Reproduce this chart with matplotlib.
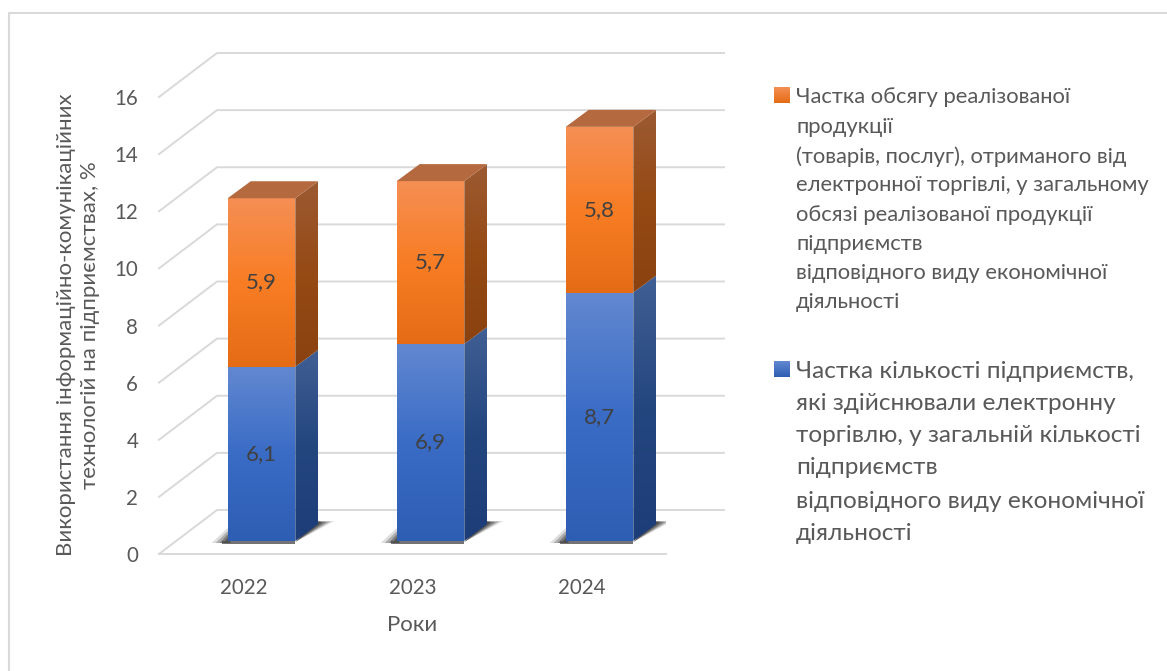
import numpy as np
import matplotlib
matplotlib.use('Agg')
import matplotlib.pyplot as plt
from matplotlib.colors import LinearSegmentedColormap
from matplotlib.lines import Line2D
from matplotlib.patches import Polygon, Rectangle
from matplotlib.transforms import IdentityTransform

plt.rcParams['font.family'] = ['Lato', 'Open Sans', 'DejaVu Sans']

years = ['2022', '2023', '2024']
firms_share = [6.1, 6.9, 8.7]
sales_share = [5.9, 5.7, 5.8]
y_ticks = [0, 2, 4, 6, 8, 10, 12, 14, 16]

sales_legend = ['Частка обсягу реалізованої', 'продукції', '(товарів, послуг), отриманого від',
                'електронної торгівлі, у загальному', 'обсязі реалізованої продукції', 'підприємств',
                'відповідного виду економічної', 'діяльності']
firms_legend = ['Частка кількості підприємств,', 'які здійснювали електронну', 'торгівлю, у загальній кількості',
                'підприємств', 'відповідного виду економічної', 'діяльності']

TEXT = '#595959'
GRID = '#D9D9D9'
H = 671
identity = IdentityTransform()

fig = plt.figure(figsize=(11.67, 6.71), dpi=100)
ax = fig.add_axes([159 / 1167, (H - 554) / H, 507 / 1167, 457 / H])
ax.set_xlim(-0.5, 2.5)
ax.set_ylim(0, 16)
ax.set_autoscale_on(False)
for s in ax.spines.values():
    s.set_visible(False)
ax.patch.set_visible(False)

# Рамка диаграммы (правый и нижний края уходят за кадр)
fig.add_artist(Line2D([9 / 1167, 9 / 1167, 1], [0, 1 - 13 / H, 1 - 13 / H], color='#D9D9D9', lw=1.5))


def px(x, y, dx=0, dy=0):
    # Точка данных -> пиксели с псевдо-3D сдвигом
    p = ax.transData.transform((x, y))
    return p[0] + dx, p[1] + dy


def face(corners, colors, z=3):
    corners = np.array(corners)
    cmap = LinearSegmentedColormap.from_list('f', colors)
    grad = np.linspace(0, 1, 256).reshape(-1, 1)
    ext = (corners[:, 0].min(), corners[:, 0].max(), corners[:, 1].min(), corners[:, 1].max())
    im = ax.imshow(grad, cmap=cmap, extent=ext, origin='lower', aspect='auto',
                   transform=identity, zorder=z, interpolation='bilinear')
    clip = Polygon(corners, transform=identity)
    im.set_clip_path(clip)


# Сетка: передний край, скос назад и задняя стенка
for t in y_ticks:
    a = px(-0.5, t)
    b = px(-0.5, t, 58, 44)
    c = px(2.5, t, 58, 44)
    ax.add_line(Line2D([a[0], b[0], c[0]], [a[1], b[1], c[1]], color=GRID, lw=1.4,
                       transform=identity, clip_on=False, zorder=1))
a = px(-0.5, 0)
b = px(2.5, 0)
ax.add_line(Line2D([a[0], b[0]], [a[1], b[1]], color=GRID, lw=1.4, transform=identity, clip_on=False, zorder=1))

FX, FY = 18, 13    # сдвиг передней грани столбца
DX, DY = 23, 17    # глубина столбца
W = 0.2

blue_front = ['#2E5EB3', '#3A6CC6', '#6288D0']
blue_side = ['#1D3D78', '#24467F', '#405F94']
orange_front = ['#E56C15', '#F87D24', '#F58F54']
orange_side = ['#8A4210', '#964A14', '#9C5A32']
orange_top = '#B5693F'

for i in range(len(years)):
    x0, x1 = i - W, i + W
    base = 0
    # Тень на полу
    L, B = px(x0, 0, FX, FY)
    R, _ = px(x1, 0, FX, FY)
    for k, al in zip([1.0, 0.75, 0.5, 0.25], [0.15, 0.25, 0.35, 0.45]):
        ax.add_patch(Polygon([(R, B - 1), (R + 23 + 16 * k, B + 18 + 2 * k), (R + 20, B + 20)],
                             fc='#202020', ec='none', alpha=al, transform=identity, zorder=2))
        ax.add_patch(Polygon([(L - 16 * k, B - 2), (L, B + 13 * k), (L + 3, B - 2)],
                             fc='#202020', ec='none', alpha=al, transform=identity, zorder=2))
    ax.add_patch(Rectangle((L - 6, B - 2.5), R - L + 6, 2.5, fc='#505050', ec='none', alpha=0.8,
                           transform=identity, zorder=2))

    for val, front, side in [(firms_share[i], blue_front, blue_side),
                             (sales_share[i], orange_front, orange_side)]:
        top = base + val
        face([px(x0, base, FX, FY), px(x1, base, FX, FY), px(x1, top, FX, FY), px(x0, top, FX, FY)], front)
        face([px(x1, base, FX, FY), px(x1, base, FX + DX, FY + DY), px(x1, top, FX + DX, FY + DY),
              px(x1, top, FX, FY)], side)
        cx, cy = px(i, base + val / 2, FX, FY)
        ax.text(cx, cy, f'{val:.1f}'.replace('.', ','), transform=identity, ha='center', va='center',
                fontsize=16, color='#404040', zorder=5)
        base = top
    ax.add_patch(Polygon([px(x0, base, FX, FY), px(x1, base, FX, FY), px(x1, base, FX + DX, FY + DY),
                          px(x0, base, FX + DX, FY + DY)], fc=orange_top, ec='none',
                         transform=identity, zorder=3))

ax.set_xticks(range(len(years)), years)
ax.set_yticks(y_ticks)
ax.tick_params(axis='both', length=0, labelsize=14.8, labelcolor=TEXT)
ax.tick_params(axis='y', pad=15)
ax.tick_params(axis='x', pad=17)
ax.set_xlabel('Роки', fontsize=16, color=TEXT, va='center', ha='center')
ax.xaxis.set_label_coords(0.5, -71 / 457)
ax.set_ylabel('Використання інформаційно-комунікаційних\nтехнологій на підприємствах, %', fontsize=16,
              color=TEXT, va='center', ha='center', linespacing=1.25)
ax.yaxis.set_label_coords((78 - 159) / 507, (554 - 325) / 457)


def legend_block(lines, ys, size, color_top, color_bottom, marker_y):
    cmap = LinearSegmentedColormap.from_list('m', [color_bottom, color_top])
    ax.imshow(np.linspace(0, 1, 32).reshape(-1, 1), cmap=cmap, origin='lower', aspect='auto',
              extent=(774, 790, H - marker_y - 8, H - marker_y + 8), transform=identity, clip_on=False)
    for line, y in zip(lines, ys):
        fig.text(796 / 1167, 1 - y / H, line, fontsize=size, color=TEXT, ha='left', va='center_baseline')


legend_block(sales_legend, [95, 125, 155, 183, 213, 242, 271, 300], 15.8, '#F58F54', '#E56C15', 95)
legend_block(firms_legend, [369, 402, 434, 466, 499, 532], 17.6, '#6288D0', '#2E5EB3', 369)

fig.savefig('out.png', dpi=100)
